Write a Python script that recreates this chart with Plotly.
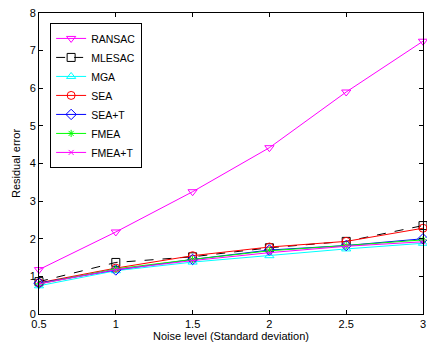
import plotly.graph_objects as go

noise = [0.5, 1.0, 1.5, 2.0, 2.5, 3.0]
ransac = [1.18, 2.18, 3.25, 4.42, 5.90, 7.25]
mlesac = [0.86, 1.37, 1.52, 1.76, 1.93, 2.35]
mga = [0.75, 1.15, 1.38, 1.55, 1.73, 1.88]
sea = [0.83, 1.22, 1.55, 1.78, 1.93, 2.28]
sea_t = [0.82, 1.17, 1.45, 1.70, 1.82, 2.00]
fmea = [0.80, 1.20, 1.45, 1.68, 1.82, 1.97]
fmea_t = [0.80, 1.18, 1.42, 1.63, 1.80, 1.92]

series = [
    ("RANSAC", ransac, "#ff00ff", "solid", "triangle-down-open", 8),
    ("MLESAC", mlesac, "#000000", "dash", "square-open", 8),
    ("MGA", mga, "#00ffff", "solid", "triangle-up-open", 8),
    ("SEA", sea, "#ff0000", "solid", "circle-open", 8),
    ("SEA+T", sea_t, "#0000ff", "solid", "diamond-open", 8),
    ("FMEA", fmea, "#00ff00", "solid", "asterisk-open", 6),
    ("FMEA+T", fmea_t, "#ff00ff", "solid", "x-thin-open", 5),
]

fig = go.Figure()
for name, ys, color, dash, sym, size in series:
    fig.add_trace(go.Scatter(
        x=noise, y=ys, name=name, mode="lines+markers",
        line=dict(color=color, width=1, dash=dash),
        marker=dict(symbol=sym, size=size, color=color, line=dict(color=color, width=1)),
        cliponaxis=False,
    ))

font = dict(family="Liberation Sans, Arial", size=11, color="black")
axis_common = dict(
    showgrid=False, zeroline=False, showline=True, linecolor="black", linewidth=1,
    mirror="allticks", ticks="inside", ticklen=4, tickcolor="black",
    tickfont=font, automargin=False,
)
fig.update_xaxes(range=[0.5, 3], tickvals=[0.5, 1, 1.5, 2, 2.5, 3],
                 ticktext=["0.5", "1", "1.5", "2", "2.5", "3"],
                 title=dict(text="Noise level (Standard deviation)", font=font, standoff=3),
                 **axis_common)
fig.update_yaxes(range=[0, 8], dtick=1,
                 title=dict(text="Residual error", font=font, standoff=6),
                 **axis_common)

fig.update_layout(
    width=427, height=349,
    margin=dict(l=39, r=4, t=13, b=35),
    paper_bgcolor="white", plot_bgcolor="white",
    legend=dict(x=0.029, y=0.967, xanchor="left", yanchor="top",
                bordercolor="black", borderwidth=1, bgcolor="white",
                font=dict(family="Liberation Sans, Arial", size=10.5, color="black"),
                tracegroupgap=0, itemwidth=30),
    showlegend=True,
)

fig.write_html("out.html", config={"displayModeBar": False},
               post_script="document.body.style.margin='0';document.body.style.padding='0';")
